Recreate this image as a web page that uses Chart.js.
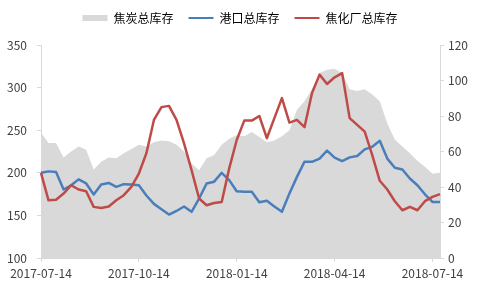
<!DOCTYPE html>
<html>
<head>
<meta charset="utf-8">
<script src="https://cdn.jsdelivr.net/npm/chart.js@4/dist/chart.umd.min.js"></script>
<style>
    html, body { margin: 0; padding: 0; background: #fff; }
    #box { width: 480px; height: 288px; }
</style>
</head>
<body>
<div id="box"><canvas id="stockChart"></canvas></div>
<script>
// weekly dates, starting 2017-07-14
const weeks = Array.from({ length: 54 }, (_, i) =>
    new Date(Date.UTC(2017, 6, 14) + i * 7 * 864e5).toISOString().slice(0, 10));

// only these weeks get a label on the x axis
const tickWeeks = [0, 13, 26, 39, 52];
const tickLabels = ['2017-07-14', '2017-10-14', '2018-01-14', '2018-04-14', '2018-07-14'];

const seriesNames = ['焦炭总库存', '港口总库存', '焦化厂总库存'];

// 焦炭总库存 (left axis)
const cokeTotal = [
    247, 235, 235, 218, 225, 231, 227, 204, 213, 218,
    217, 223, 228, 233, 231, 236, 238, 237, 233, 225,
    211, 203, 217, 221, 233, 240, 244, 243, 248, 242,
    236, 238, 243, 250, 274, 284, 298, 317, 321, 322,
    317, 298, 296, 298, 292, 284, 258, 239, 231, 223,
    214, 207, 199, 200
];

// 港口总库存 (right axis)
const portStock = [
    48, 48.8, 48.4, 38.6, 41, 44.3, 42, 35.8, 41.4, 42.3,
    40.1, 41.6, 41.4, 41, 35.2, 30.5, 27.5, 24.5, 26.5, 29,
    26, 33.5, 42, 43, 48, 43.9, 37.6, 37.3, 37.3, 31.4,
    32.2, 29, 26, 36.3, 45.7, 54.2, 54.2, 56, 60.5, 56.5,
    54.6, 56.7, 57.5, 61.2, 62.7, 66, 56, 50.8, 49.9, 44.8,
    41, 35.9, 31.6, 31.6
];

// 焦化厂总库存 (right axis)
const plantStock = [
    48, 32.5, 32.8, 36.3, 41, 38.6, 37.6, 28.8, 28.2, 29,
    32.5, 35.4, 40.1, 47.6, 59, 77.8, 85, 85.7, 77.8, 64.6,
    49.5, 33.5, 29.7, 31, 31.6, 50.5, 66.5, 77.4, 77.4, 80,
    67.5, 78.8, 90.1, 76.3, 77.8, 73.7, 93, 103.3, 98, 101.8,
    104.2, 78.8, 75, 71.2, 58, 43.5, 38.6, 32, 26.9, 28.8,
    26.9, 32, 34.4, 36
];

const GRAY = '#d9d9d9';
const BLUE = '#4a7ebb';
const RED = '#be4b48';
const AXIS = '#d9d9d9';
const TEXT = '#404040';
const FONT = '"Noto Sans CJK SC", "Noto Sans", sans-serif';

// keep the legend strip short so the plot starts where the reference does
const legendHeight = {
    id: 'legendHeight',
    beforeUpdate(chart) {
        const lg = chart.legend;
        if (lg && !lg._fixed) {
            const fit = lg.fit;
            lg.fit = function () {
                fit.call(this);
                this.height = 48;
            };
            lg._fixed = true;
        }
    }
};

const ctx = document.getElementById('stockChart');

new Chart(ctx, {
    type: 'line',
    data: {
        labels: weeks,
        datasets: [{
            label: seriesNames[0],
            data: cokeTotal,
            yAxisID: 'yLeft',
            backgroundColor: GRAY,
            borderColor: GRAY,
            borderWidth: 0,
            pointRadius: 0,
            fill: 'start',
            order: 2
        }, {
            label: seriesNames[1],
            data: portStock,
            yAxisID: 'yRight',
            borderColor: BLUE,
            borderWidth: 2.5,
            pointRadius: 0,
            fill: false,
            borderJoinStyle: 'round',
            order: 1
        }, {
            label: seriesNames[2],
            data: plantStock,
            yAxisID: 'yRight',
            borderColor: RED,
            borderWidth: 2.5,
            pointRadius: 0,
            fill: false,
            borderJoinStyle: 'round',
            order: 0
        }]
    },
    options: {
        responsive: true,
        maintainAspectRatio: false,
        animation: false,
        layout: { padding: { top: -3, left: 0, right: 0, bottom: 0 } },
        plugins: {
            tooltip: { enabled: false },
            legend: {
                position: 'top',
                labels: {
                    color: '#000',
                    font: { family: FONT, size: 12 },
                    padding: 15,
                    usePointStyle: true,
                    pointStyleWidth: 25,
                    boxHeight: 6,
                    generateLabels(chart) {
                        return chart.data.datasets.map((ds, i) => ({
                            text: ds.label,
                            datasetIndex: i,
                            pointStyle: i === 0 ? 'rect' : 'line',
                            fillStyle: i === 0 ? GRAY : ds.borderColor,
                            strokeStyle: i === 0 ? GRAY : ds.borderColor,
                            lineWidth: i === 0 ? 0 : 2,
                            fontColor: '#000',
                            hidden: false
                        }));
                    }
                }
            }
        },
        scales: {
            x: {
                type: 'category',
                offset: false,
                afterFit(scale) { scale.height = 30; },
                grid: {
                    drawOnChartArea: false,
                    drawTicks: true,
                    tickLength: 4,
                    tickColor: c => tickWeeks.includes(c.index) ? AXIS : 'rgba(0,0,0,0)'
                },
                border: { display: true, color: AXIS },
                ticks: {
                    autoSkip: false,
                    maxRotation: 0,
                    minRotation: 0,
                    padding: 4,
                    color: TEXT,
                    font: { family: FONT, size: 12 },
                    callback(value, index) {
                        const k = tickWeeks.indexOf(index);
                        return k >= 0 ? tickLabels[k] : '';
                    }
                }
            },
            yLeft: {
                position: 'left',
                min: 100,
                max: 350,
                afterFit(scale) { scale.width = 41; },
                grid: { drawOnChartArea: false, tickLength: 4, tickColor: AXIS },
                border: { display: true, color: AXIS },
                ticks: {
                    stepSize: 50,
                    padding: 10,
                    color: TEXT,
                    font: { family: FONT, size: 12 }
                }
            },
            yRight: {
                position: 'right',
                min: 0,
                max: 120,
                afterFit(scale) { scale.width = 40; },
                grid: { drawOnChartArea: false, tickLength: 4, tickColor: AXIS },
                border: { display: true, color: AXIS },
                ticks: {
                    stepSize: 20,
                    padding: 4,
                    color: TEXT,
                    font: { family: FONT, size: 12 }
                }
            }
        }
    },
    plugins: [legendHeight]
});
</script>
</body>
</html>
